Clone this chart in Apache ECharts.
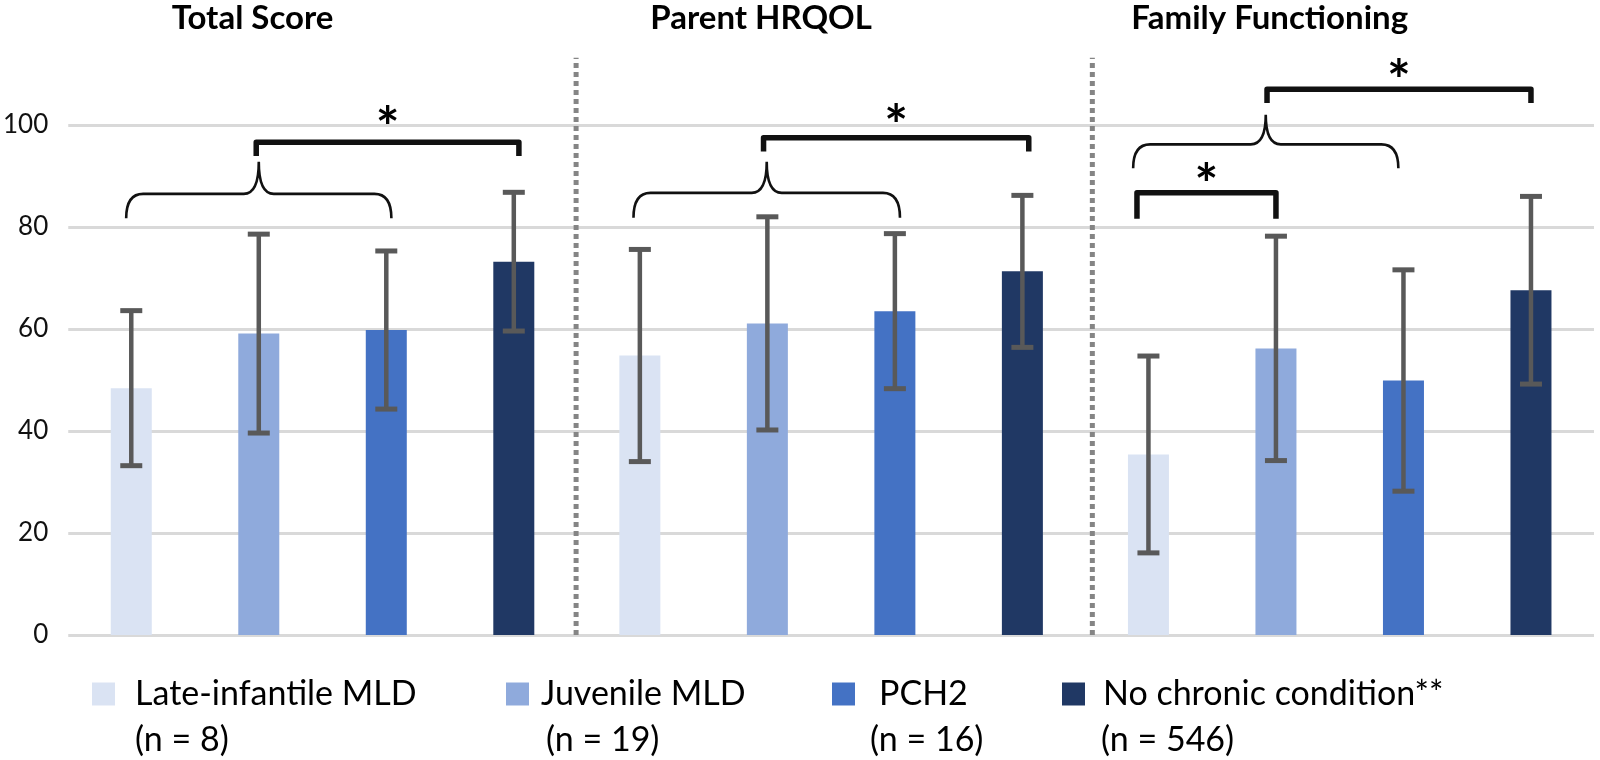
<!DOCTYPE html>
<html><head><meta charset="utf-8">
<script src="https://cdn.jsdelivr.net/npm/echarts@6/dist/echarts.min.js"></script>
<style>html,body{margin:0;padding:0;background:#fff}#c{width:1600px;height:760px}</style>
</head><body><div id="c"></div>
<script>
// ---------- data ----------
const panels = ['Total Score', 'Parent HRQOL', 'Family Functioning'];
const groupNames = ['Late-infantile MLD', 'Juvenile MLD', 'PCH2', 'No chronic condition**'];
const groupN = ['(n = 8)', '(n = 19)', '(n = 16)', '(n = 546)'];
const yTicks = [0, 20, 40, 60, 80, 100];

const meanLateInfantile = [48.4, 54.8, 35.4];
const meanJuvenile      = [59.1, 61.1, 56.2];
const meanPCH2          = [59.8, 63.5, 49.9];
const meanNoChronic     = [73.2, 71.3, 67.6];

const sdLateInfantile = [15.2, 20.8, 19.3];
const sdJuvenile      = [19.5, 20.9, 22.0];
const sdPCH2          = [15.5, 15.2, 21.7];
const sdNoChronic     = [13.6, 14.9, 18.4];

// annotations (x in bar slots 0..3 of a panel, y in score units)
const braces = [
  {panel: 0, from: -0.04, to: 2.04, end: 81.7, mid: 86.5, peak: 92.8},
  {panel: 1, from: -0.05, to: 2.04, end: 81.8, mid: 86.7, peak: 92.8},
  {panel: 2, from: -0.12, to: 1.96, end: 91.5, mid: 96.2, peak: 102.0}
];
const sigBrackets = [
  {panel: 0, from: 0.98, to: 3.04, top: 96.6, leg: 93.9, star: 101.6, label: '*'},
  {panel: 1, from: 0.97, to: 3.05, top: 97.5, leg: 94.8, star: 102.0, label: '*'},
  {panel: 2, from: 0.93, to: 3.00, top: 107.0, leg: 104.3, star: 110.7, label: '*'},
  {panel: 2, from: -0.09, to: 1.00, top: 86.7, leg: 81.6, star: 90.4, label: '*'}
];
const separators = [
  {panel: 1, at: -0.50, top: 113.2},
  {panel: 2, at: -0.44, top: 113.2}
];

// ---------- styling ----------
const FONT = 'Lato';
const colors = ['#dae3f3', '#8faadc', '#4472c4', '#203864'];
const BAR_W = 41, BAR_GAP = 2.11, BAR_STEP = BAR_W * (1 + BAR_GAP);
const means = [meanLateInfantile, meanJuvenile, meanPCH2, meanNoChronic];
const sds = [sdLateInfantile, sdJuvenile, sdPCH2, sdNoChronic];

function barX(api, panel, slot) { return api.coord([panel, 0])[0] + (slot - 1.5) * BAR_STEP; }
function yPx(api, v) { return api.coord([0, v])[1]; }

const chart = echarts.init(document.getElementById('c'), null, {renderer: 'canvas'});

const series = [];
groupNames.forEach((name, k) => {
  series.push({
    name, type: 'bar', data: means[k], barWidth: BAR_W, barGap: (BAR_GAP * 100) + '%',
    itemStyle: {color: colors[k]}, z: 2
  });
});
groupNames.forEach((name, k) => {
  series.push({
    type: 'custom', z: 5, clip: false, silent: true,
    data: means[k].map((m, i) => [i, m - sds[k][i], m + sds[k][i]]),
    renderItem(params, api) {
      const p = api.value(0);
      const x = barX(api, p, k);
      const y1 = api.coord([p, api.value(1)])[1];
      const y2 = api.coord([p, api.value(2)])[1];
      return {type: 'group', children: [
        {type: 'line', shape: {x1: x, y1: y1, x2: x, y2: y2}, style: {stroke: '#595959', lineWidth: 4.5}},
        {type: 'line', shape: {x1: x - 11, y1: y1, x2: x + 11, y2: y1}, style: {stroke: '#595959', lineWidth: 5}},
        {type: 'line', shape: {x1: x - 11, y1: y2, x2: x + 11, y2: y2}, style: {stroke: '#595959', lineWidth: 5}}
      ]};
    }
  });
});
// annotations
series.push({
  type: 'custom', z: 6, clip: false, silent: true,
  data: panels.map((_, i) => [i, 0]),
  renderItem(params, api) {
    const p = api.value(0);
    const children = [];
    separators.filter(s => s.panel === p).forEach(s => {
      const x = barX(api, p, s.at);
      children.push({type: 'line', shape: {x1: x, y1: yPx(api, 0), x2: x, y2: yPx(api, s.top)},
        style: {stroke: '#858585', lineWidth: 5, lineDash: [5, 4]}});
    });
    braces.filter(b => b.panel === p).forEach(b => {
      const xL = barX(api, p, b.from), xR = barX(api, p, b.to), xc = (xL + xR) / 2;
      const yE = yPx(api, b.end), yM = yPx(api, b.mid), yP = yPx(api, b.peak);
      const R = 17, R2 = 15;
      const d = `M${xL} ${yE} Q${xL} ${yM} ${xL + R} ${yM} L${xc - R2} ${yM} Q${xc} ${yM} ${xc} ${yP} ` +
                `Q${xc} ${yM} ${xc + R2} ${yM} L${xR - R} ${yM} Q${xR} ${yM} ${xR} ${yE}`;
      children.push({type: 'path', shape: {pathData: d}, style: {stroke: '#111', lineWidth: 2.6, fill: null}});
    });
    sigBrackets.filter(b => b.panel === p).forEach(b => {
      const xL = barX(api, p, b.from), xR = barX(api, p, b.to);
      const yT = yPx(api, b.top), yL = yPx(api, b.leg);
      children.push({type: 'polyline', shape: {points: [[xL, yL], [xL, yT], [xR, yT], [xR, yL]]},
        style: {stroke: '#111', lineWidth: 5.5, lineJoin: 'round', fill: null}});
      children.push({type: 'text', style: {text: b.label, x: (xL + xR) / 2, y: yPx(api, b.star) + 12,
        align: 'center', verticalAlign: 'middle', font: 'bold 56px ' + FONT, fill: '#000'}});
    });
    return {type: 'group', children};
  }
});

const legendLeft = [92, 506, 832, 1062];
const padA = [15, 7, 19, 13];
const nLeft = [135, 546, 870, 1101];
const legends = groupNames.map((name, k) => ({
  data: [name], left: legendLeft[k], top: 677, padding: 0, orient: 'horizontal',
  icon: 'rect', itemWidth: 23, itemHeight: 23, selectedMode: false,
  formatter: n => `{a|${n}}`,
  textStyle: {
    fontFamily: FONT, fontSize: 34, color: '#000', lineHeight: 23,
    rich: {a: {fontFamily: FONT, fontSize: 34, color: '#000', lineHeight: 23, padding: [0, 0, 0, padA[k]]}}
  }
}));

chart.setOption({
  animation: false,
  backgroundColor: '#fff',
  grid: {left: 64, right: 6, top: 125, bottom: 125, containLabel: false},
  legend: legends,
  graphic: groupN.map((t, k) => ({
    type: 'text', x: nLeft[k], y: 740, silent: true,
    style: {text: t, font: '34px ' + FONT, fill: '#000', align: 'left', verticalAlign: 'middle'}
  })),
  xAxis: {
    type: 'category', data: panels, position: 'top',
    axisLine: {show: false}, axisTick: {show: false}, splitLine: {show: false},
    axisLabel: {fontFamily: FONT, fontSize: 33, fontWeight: 'bold', color: '#000', margin: 90,
      padding: [0, 140, 0, 0]}
  },
  yAxis: {
    type: 'value', min: yTicks[0], max: yTicks[yTicks.length - 1], interval: yTicks[1] - yTicks[0],
    axisLine: {show: false}, axisTick: {show: false},
    axisLabel: {fontFamily: FONT, fontSize: 26, color: '#111', margin: 20},
    splitLine: {lineStyle: {color: '#d9d9d9', width: 3}}
  },
  series
});
</script>
</body></html>
